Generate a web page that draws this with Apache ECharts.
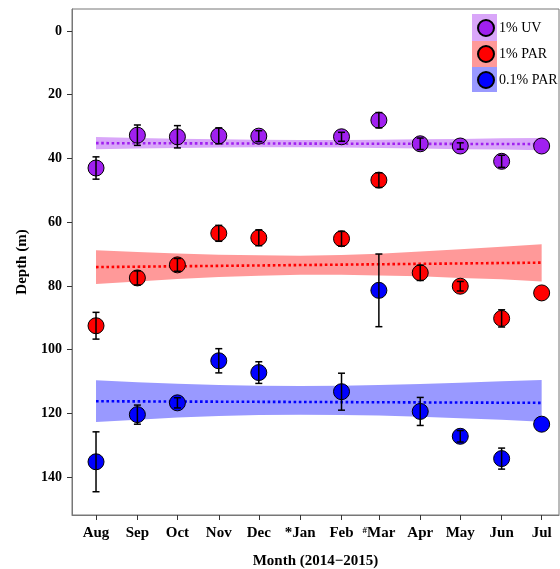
<!DOCTYPE html>
<html>
<head>
<meta charset="utf-8">
<script src="https://cdn.jsdelivr.net/npm/echarts@6/dist/echarts.min.js"></script>
<style>html,body{margin:0;padding:0;background:#fff}#c{width:560px;height:569px}</style>
</head>
<body>
<div id="c"></div>
<script>
// ---- data ----
const monthLabels = ['Aug','Sep','Oct','Nov','Dec','*Jan','Feb','#Mar','Apr','May','Jun','Jul'];
const monthDates = ['2014-08-01','2014-09-01','2014-10-01','2014-11-01','2014-12-01','2015-01-01','2015-02-01','2015-03-01','2015-04-01','2015-05-01','2015-06-01','2015-07-01'];
const yTicks = [0,20,40,60,80,100,120,140];

const uvDepth   = [43.0,32.7,33.2,32.9,33.0,null,33.2,28.0,35.4,36.1,40.9,36.1];
const uvErr     = [3.5,3.2,3.5,2.5,1.7,null,1.4,2.4,1.8,1.0,1.9,0];
const parDepth  = [92.5,77.5,73.4,63.5,64.9,null,65.2,46.8,75.9,80.1,90.2,82.2];
const parErr    = [4.2,2.2,2.0,2.5,2.5,null,2.3,2.3,2.4,1.5,2.7,0];
const par01Depth= [135.2,120.4,116.7,103.5,107.2,null,113.2,81.4,119.4,127.2,134.2,123.4];
const par01Err  = [9.4,3.0,1.6,3.8,3.4,null,5.8,11.4,4.4,1.8,3.3,0];

// linear trend (Aug, Jul) and confidence band edges at each month
const uvTrend = [35.2,35.5];
const parTrend = [74.1,72.7];
const par01Trend = [116.2,116.7];
const uvBandTop    = [33.3,33.6,33.8,34.0,34.1,34.2,34.2,34.1,34.0,33.9,33.7,33.6];
const uvBandBottom = [37.1,36.9,36.7,36.6,36.5,36.5,36.6,36.7,36.9,37.1,37.2,37.4];
const parBandTop    = [68.8,69.4,69.8,70.2,70.4,70.5,70.3,69.9,69.2,68.5,67.7,66.9];
const parBandBottom = [79.4,78.6,77.8,77.2,76.8,76.5,76.5,76.7,77.0,77.5,77.9,78.6];
const par01BandTop    = [109.6,110.2,110.7,111.1,111.3,111.4,111.3,111.1,110.8,110.4,109.9,109.5];
const par01BandBottom = [122.7,122.0,121.3,120.8,120.5,120.4,120.5,120.7,121.1,121.5,122.0,122.6];

const seriesNames = ['1% UV','1% PAR','0.1% PAR'];
const colors = ['#a020f0','#ff0000','#0000ff'];
const bandColors = ['#d9a6f9','#ff9999','#9999ff'];

// ---- build ----
const t0 = Date.UTC(2014,7,1);
const dayX = monthDates.map(d => { const p = d.split('-').map(Number); return Math.round((Date.UTC(p[0],p[1]-1,p[2]) - t0)/86400000); });
const FONT = 'Liberation Serif';

const groups = [
  {depth: uvDepth, err: uvErr, trend: uvTrend, top: uvBandTop, bot: uvBandBottom},
  {depth: parDepth, err: parErr, trend: parTrend, top: parBandTop, bot: parBandBottom},
  {depth: par01Depth, err: par01Err, trend: par01Trend, top: par01BandTop, bot: par01BandBottom}
];

const series = [];
groups.forEach((g, k) => {
  series.push({
    type: 'custom', silent: true, z: 1, clip: false,
    data: [[dayX[0], g.top[0]]],
    renderItem: function (params, api) {
      const pts = [];
      for (let i = 0; i < dayX.length; i++) pts.push(api.coord([dayX[i], g.top[i]]));
      for (let i = dayX.length - 1; i >= 0; i--) pts.push(api.coord([dayX[i], g.bot[i]]));
      return {type: 'polygon', shape: {points: pts}, style: {fill: bandColors[k], stroke: null}};
    }
  });
});
groups.forEach((g, k) => {
  series.push({
    type: 'line', silent: true, z: 2, symbol: 'none',
    data: [[dayX[0], g.trend[0]], [dayX[dayX.length-1], g.trend[1]]],
    lineStyle: {color: colors[k], width: 2.6, type: [2.6, 2.6]}
  });
});
groups.forEach((g, k) => {
  const pts = [];
  g.depth.forEach((v, i) => { if (v !== null) pts.push([dayX[i], v]); });
  series.push({
    name: seriesNames[k], type: 'scatter', z: 3, symbol: 'circle', symbolSize: 16,
    data: pts,
    itemStyle: {color: colors[k], borderColor: '#000', borderWidth: 1, opacity: 1}
  });
});
groups.forEach((g, k) => {
  const ed = [];
  g.depth.forEach((v, i) => { if (v !== null && g.err[i] > 0) ed.push([dayX[i], v, g.err[i]]); });
  series.push({
    type: 'custom', silent: true, z: 4,
    data: ed,
    renderItem: function (params, api) {
      const x = api.value(0), y = api.value(1), e = api.value(2);
      const a = api.coord([x, y - e]), b = api.coord([x, y + e]);
      const st = {stroke: '#000', lineWidth: 1.5};
      return {type: 'group', children: [
        {type: 'line', shape: {x1: a[0], y1: a[1], x2: b[0], y2: b[1]}, style: st},
        {type: 'line', shape: {x1: a[0]-3.5, y1: a[1], x2: a[0]+3.5, y2: a[1]}, style: st},
        {type: 'line', shape: {x1: b[0]-3.5, y1: b[1], x2: b[0]+3.5, y2: b[1]}, style: st}
      ]};
    }
  });
});

const chart = echarts.init(document.getElementById('c'), null, {renderer: 'canvas'});
chart.setOption({
  animation: false,
  backgroundColor: '#fff',
  grid: {left: 72, top: 9, right: 1, bottom: 54, show: true, borderColor: '#777', borderWidth: 1, containLabel: false, outerBoundsMode: 'none'},
  legend: {
    data: seriesNames, orient: 'vertical', left: 477, top: 19, padding: 0,
    itemWidth: 16, itemHeight: 16, itemGap: 8, icon: 'circle',
    textStyle: {fontFamily: FONT, fontSize: 14, color: '#000'}
  },
  graphic: [
    {type: 'rect', left: 472, top: 14, shape: {width: 25, height: 27}, style: {fill: bandColors[0]}, z: -1, silent: true},
    {type: 'rect', left: 472, top: 41, shape: {width: 25, height: 26}, style: {fill: bandColors[1]}, z: -1, silent: true},
    {type: 'rect', left: 472, top: 67, shape: {width: 25, height: 25}, style: {fill: bandColors[2]}, z: -1, silent: true}
  ],
  xAxis: {
    type: 'value', min: -18, max: 347,
    name: 'Month (2014\u22122015)', nameLocation: 'middle', nameGap: 39,
    nameTextStyle: {fontFamily: FONT, fontWeight: 'bold', fontSize: 15, color: '#000'},
    axisLine: {show: true, onZero: false, lineStyle: {color: '#777'}},
    splitLine: {show: false},
    axisTick: {show: true, inside: false, length: 5, customValues: dayX, lineStyle: {color: '#333'}},
    axisLabel: {
      customValues: dayX, margin: 11, fontFamily: FONT, fontWeight: 'bold', fontSize: 15, color: '#000',
      formatter: function (v) {
        const i = dayX.indexOf(v); const s = i >= 0 ? monthLabels[i] : '';
        return s.charAt(0) === '#' ? '{sup|#}' + s.slice(1) : s;
      },
      rich: {sup: {fontFamily: FONT, fontWeight: 'bold', fontSize: 9, verticalAlign: 'top', padding: [0,0,6,0], color: '#000'}}
    }
  },
  yAxis: {
    type: 'value', inverse: true, min: -6.9, max: 151.9,
    name: 'Depth (m)', nameLocation: 'middle', nameGap: 38, nameRotate: 90,
    nameTextStyle: {fontFamily: FONT, fontWeight: 'bold', fontSize: 15, color: '#000'},
    axisLine: {show: true, onZero: false, lineStyle: {color: '#777'}},
    splitLine: {show: false},
    axisTick: {show: true, inside: false, length: 5, customValues: yTicks, lineStyle: {color: '#333'}},
    axisLabel: {customValues: yTicks, margin: 10, fontFamily: FONT, fontWeight: 'bold', fontSize: 14, color: '#000'}
  },
  series: series
});
</script>
</body>
</html>
